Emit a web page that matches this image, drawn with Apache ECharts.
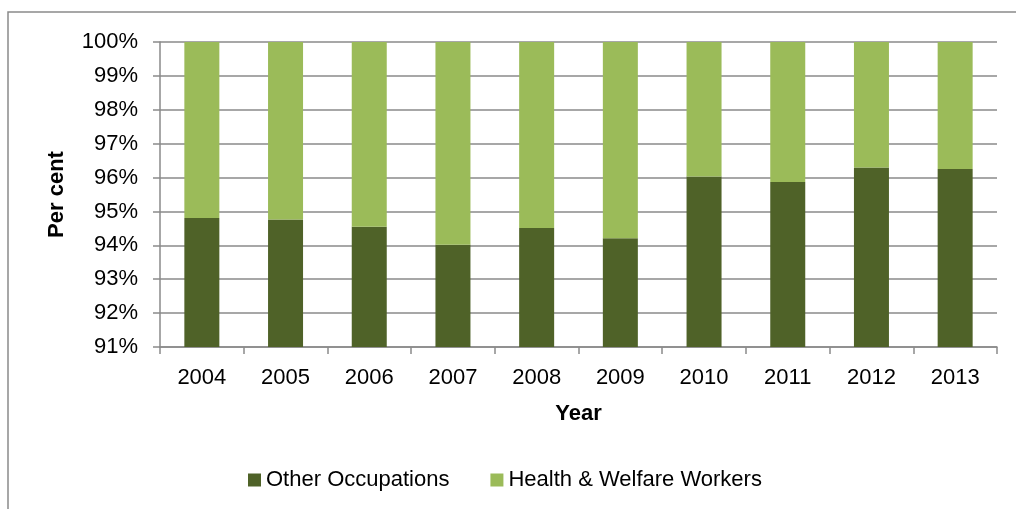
<!DOCTYPE html>
<html>
<head>
<meta charset="utf-8">
<style>
  html, body { margin: 0; padding: 0; background: #fff; }
  #chart { width: 1016px; height: 509px; }
</style>
<script src="https://cdn.jsdelivr.net/npm/echarts@6/dist/echarts.min.js"></script>
</head>
<body>
<div id="chart"></div>
<script>
// Share of employment by occupation group, per year (per cent)
const years = ['2004', '2005', '2006', '2007', '2008', '2009', '2010', '2011', '2012', '2013'];
const otherOccupations = [94.81, 94.76, 94.55, 94.02, 94.51, 94.21, 96.03, 95.87, 96.30, 96.25];
const healthWelfare = [5.19, 5.24, 5.45, 5.98, 5.49, 5.79, 3.97, 4.13, 3.70, 3.75];

const FONT = '"Liberation Sans", Arial, sans-serif';
const GRID_COLOR = '#8a8a8a';

const chart = echarts.init(document.getElementById('chart'), null, { renderer: 'canvas' });

chart.setOption({
  animation: false,
  backgroundColor: '#ffffff',
  textStyle: { fontFamily: FONT },
  graphic: [{
    type: 'rect',
    shape: { x: 8, y: 12, width: 1020, height: 520 },
    style: { fill: 'none', stroke: GRID_COLOR, lineWidth: 1.5 },
    silent: true,
    z: -10
  }],
  grid: { left: 160, right: 19, top: 42, bottom: 162, containLabel: false },
  legend: {
    bottom: 13,
    left: 243,
    itemWidth: 13,
    itemHeight: 13,
    itemGap: 41,
    icon: 'rect',
    textStyle: { fontFamily: FONT, fontSize: 22, color: '#000' },
    data: ['Other Occupations', 'Health & Welfare Workers']
  },
  xAxis: {
    type: 'category',
    data: years,
    name: 'Year',
    nameLocation: 'middle',
    nameGap: 56,
    nameTextStyle: { fontFamily: FONT, fontSize: 22, fontWeight: 'bold', color: '#000' },
    axisLine: { lineStyle: { color: GRID_COLOR, width: 1.5 } },
    axisTick: { show: true, length: 7, alignWithLabel: false, lineStyle: { color: GRID_COLOR, width: 1.5 } },
    axisLabel: { fontFamily: FONT, fontSize: 22, color: '#000', margin: 20 }
  },
  yAxis: {
    type: 'value',
    min: 91,
    max: 100,
    interval: 1,
    name: 'Per cent',
    nameLocation: 'middle',
    nameGap: 92,
    nameRotate: 90,
    nameTextStyle: { fontFamily: FONT, fontSize: 22, fontWeight: 'bold', color: '#000' },
    axisLine: { show: true, lineStyle: { color: GRID_COLOR, width: 1.5 } },
    axisTick: { show: true, inside: false, length: 7, lineStyle: { color: GRID_COLOR, width: 1.5 } },
    axisLabel: { fontFamily: FONT, fontSize: 22, color: '#000', margin: 22, formatter: '{value}%' },
    splitLine: { show: true, lineStyle: { color: GRID_COLOR, width: 1.5 } }
  },
  series: [
    {
      name: 'Other Occupations',
      type: 'bar',
      stack: 'share',
      barWidth: 35,
      data: otherOccupations,
      itemStyle: { color: '#4F6228' }
    },
    {
      name: 'Health & Welfare Workers',
      type: 'bar',
      stack: 'share',
      barWidth: 35,
      data: healthWelfare,
      itemStyle: { color: '#9BBB59' }
    }
  ]
});
</script>
</body>
</html>
